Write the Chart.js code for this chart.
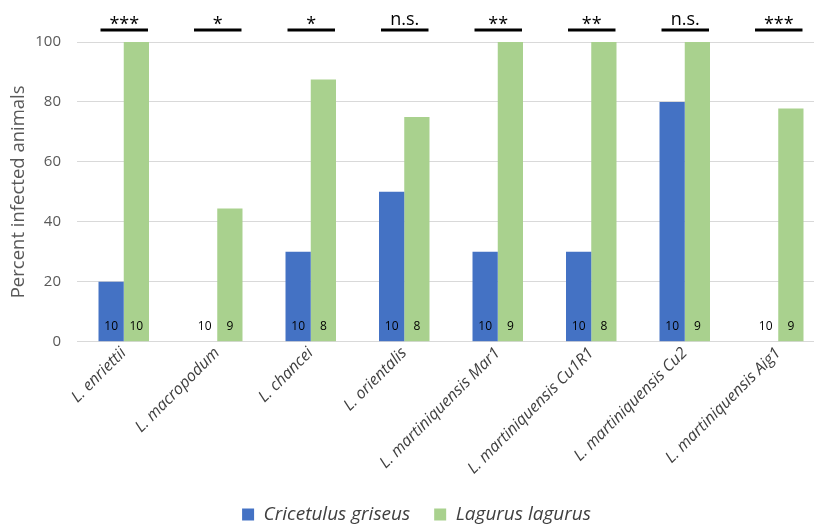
<!DOCTYPE html>
<html>
<head>
<meta charset="utf-8">
<script src="https://cdn.jsdelivr.net/npm/chart.js@4.4.1/dist/chart.umd.min.js"></script>
<style>
  html, body { margin: 0; padding: 0; background: #fff; overflow: hidden; }
  #wrap { width: 828px; height: 527px; position: relative; }
</style>
</head>
<body>
<div id="wrap"><canvas id="chart"></canvas></div>
<script>
const categories = [
  'L. enriettii', 'L. macropodum', 'L. chancei', 'L. orientalis',
  'L. martiniquensis Mar1', 'L. martiniquensis Cu1R1', 'L. martiniquensis Cu2', 'L. martiniquensis Aig1'
];
// percent of infected animals per host
const griseus = [20, 0, 30, 50, 30, 30, 80, 0];
const lagurus = [100, 44.4, 87.5, 75, 100, 100, 100, 77.8];
// animals per group
const nGriseus = [10, 10, 10, 10, 10, 10, 10, 10];
const nLagurus = [10, 9, 8, 8, 9, 8, 9, 9];
const significance = ['***', '*', '*', 'n.s.', '**', '**', 'n.s.', '***'];
const yTicks = [0, 20, 40, 60, 80, 100];

const FONT = '"Open Sans", "Noto Sans", sans-serif';

// n per group at the foot of each bar, significance bracket above each pair
const annotate = {
  id: 'annotate',
  afterDatasetsDraw(chart) {
    const { ctx, scales: { y } } = chart;
    const ma = chart.getDatasetMeta(0), mb = chart.getDatasetMeta(1);
    const y0 = y.getPixelForValue(0);
    ctx.save();
    ctx.textAlign = 'center';
    categories.forEach((_, i) => {
      const a = ma.data[i], b = mb.data[i];
      ctx.fillStyle = '#000';
      ctx.font = '12px ' + FONT;
      ctx.textBaseline = 'middle';
      ctx.fillText(String(nGriseus[i]), a.x, y0 - 15);
      ctx.fillText(String(nLagurus[i]), b.x, y0 - 15);

      const left = a.x - a.width / 2 + 2, right = b.x + b.width / 2 - 1;
      const yLine = y.top - 12;
      ctx.strokeStyle = '#000';
      ctx.lineWidth = 3;
      ctx.beginPath();
      ctx.moveTo(left, yLine);
      ctx.lineTo(right, yLine);
      ctx.stroke();

      const s = significance[i];
      const mid = (left + right) / 2;
      ctx.textBaseline = 'alphabetic';
      ctx.font = '18px ' + FONT;
      ctx.fillText(s, mid, s === 'n.s.' ? yLine - 5 : yLine);
    });
    ctx.restore();
  }
};

new Chart(document.getElementById('chart'), {
  type: 'bar',
  data: {
    labels: categories,
    datasets: [
      { label: 'Cricetulus griseus', data: griseus, backgroundColor: '#4472C4', categoryPercentage: 0.54, barPercentage: 1 },
      { label: 'Lagurus lagurus', data: lagurus, backgroundColor: '#A9D18E', categoryPercentage: 0.54, barPercentage: 1 },
    ]
  },
  options: {
    responsive: true, maintainAspectRatio: false, animation: false,
    layout: { padding: { top: 42, right: 3, left: 8, bottom: -7 } },
    plugins: {
      legend: {
        position: 'bottom',
        labels: { color: '#404040', font: { family: FONT, size: 19, style: 'italic' }, boxWidth: 12, boxHeight: 12, padding: 24 }
      },
      tooltip: { enabled: false },
    },
    scales: {
      x: {
        grid: { display: false },
        border: { display: false },
        afterFit: (axis) => { axis.height += 9; },
        ticks: { color: '#404040', font: { family: FONT, size: 16, style: 'italic' }, maxRotation: 45, minRotation: 45, padding: -6, autoSkip: false },
      },
      y: {
        min: 0, max: 100,
        afterBuildTicks: (axis) => { axis.ticks = yTicks.map(v => ({ value: v })); },
        afterFit: (axis) => { axis.width = 69; },
        grid: { color: '#d9d9d9', drawTicks: false },
        border: { display: false },
        ticks: { color: '#595959', font: { family: FONT, size: 15 }, padding: 16 },
        title: { display: true, text: 'Percent infected animals', color: '#595959', font: { family: FONT, size: 18.5 }, padding: { top: 0, bottom: 0 } },
      },
    },
  },
  plugins: [annotate],
});
</script>
</body>
</html>
